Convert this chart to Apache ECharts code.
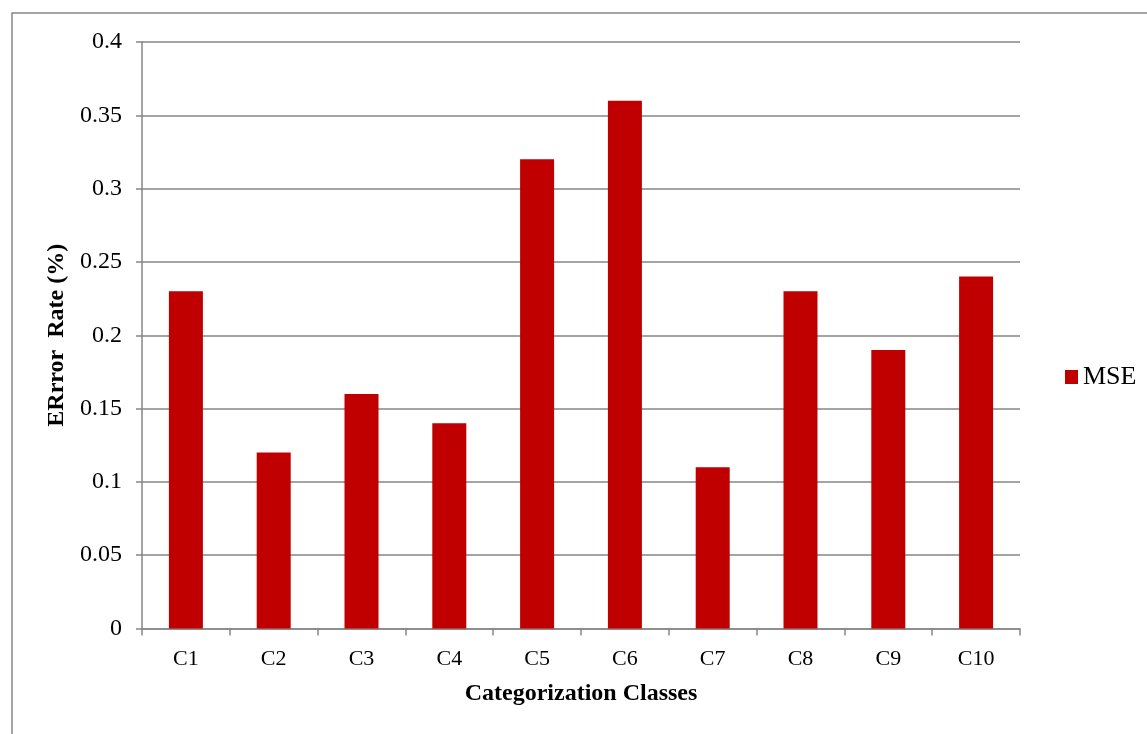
<!DOCTYPE html>
<html>
<head>
<meta charset="utf-8">
<script src="https://cdn.jsdelivr.net/npm/echarts@6/dist/echarts.min.js"></script>
<style>
  html, body { margin: 0; padding: 0; background: #fff; }
  #chart { width: 1147px; height: 734px; }
</style>
</head>
<body>
<div id="chart"></div>
<script>
// Categorization classes and their MSE error rates
const categories = ['C1', 'C2', 'C3', 'C4', 'C5', 'C6', 'C7', 'C8', 'C9', 'C10'];
const mseValues = [0.23, 0.12, 0.16, 0.14, 0.32, 0.36, 0.11, 0.23, 0.19, 0.24];
const seriesName = 'MSE';

const FONT = '"Liberation Serif", "Times New Roman", serif';
const GRAY = '#868686';

const chart = echarts.init(document.getElementById('chart'), null, { renderer: 'canvas' });

chart.setOption({
  backgroundColor: '#fff',
  animation: false,
  textStyle: { fontFamily: FONT },
  // chart-area frame
  graphic: [{
    type: 'rect',
    shape: { x: 12, y: 13, width: 1200, height: 800 },
    style: { fill: 'none', stroke: GRAY, lineWidth: 1.5 },
    silent: true
  }],
  legend: {
    data: [seriesName],
    orient: 'vertical',
    left: 1060,
    top: 359,
    itemWidth: 13,
    itemHeight: 14,
    itemGap: 6,
    icon: 'rect',
    textStyle: { fontFamily: FONT, fontSize: 26, color: '#000' }
  },
  grid: { left: 142, top: 42, right: 127, bottom: 105.5, containLabel: false },
  xAxis: {
    type: 'category',
    data: categories,
    name: 'Categorization Classes',
    nameLocation: 'middle',
    nameGap: 53,
    nameTextStyle: { fontFamily: FONT, fontSize: 24, fontWeight: 'bold', color: '#000' },
    axisLine: { lineStyle: { color: GRAY, width: 1.5 } },
    axisTick: { show: true, length: 7, alignWithLabel: false, lineStyle: { color: GRAY, width: 1.5 } },
    axisLabel: { fontFamily: FONT, fontSize: 22, color: '#000', margin: 20 }
  },
  yAxis: {
    type: 'value',
    min: 0,
    max: 0.4,
    interval: 0.05,
    name: 'ERrror  Rate (%)',
    nameLocation: 'middle',
    nameGap: 67,
    nameRotate: 90,
    nameTextStyle: { fontFamily: FONT, fontSize: 24, fontWeight: 'bold', color: '#000' },
    axisLine: { show: true, lineStyle: { color: GRAY, width: 1.5 } },
    axisTick: { show: true, length: 6, lineStyle: { color: GRAY, width: 1.5 } },
    axisLabel: { fontFamily: FONT, fontSize: 24, color: '#000', margin: 20 },
    splitLine: { show: true, lineStyle: { color: GRAY, width: 1.5 } }
  },
  series: [{
    name: seriesName,
    type: 'bar',
    data: mseValues,
    barWidth: 34,
    itemStyle: { color: '#C00000' }
  }]
});
</script>
</body>
</html>
